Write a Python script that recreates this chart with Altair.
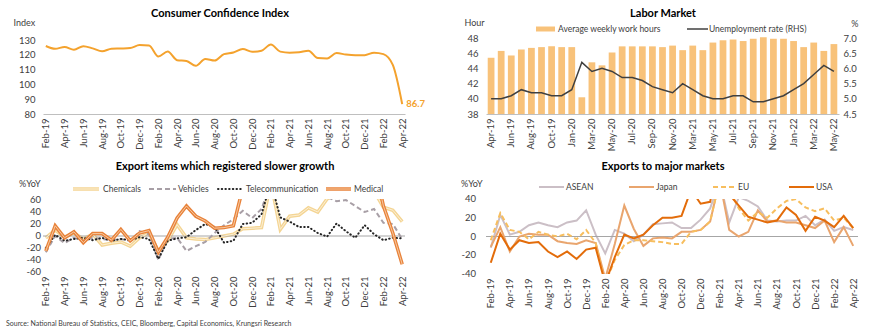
import altair as alt
import pandas as pd

FONT = "Lato"
TXT = "#404040"
AXC = "#BFBFBF"
ORANGE = "#F4A22D"

# ---------------- data ----------------
months = ["Feb-19", "Mar-19", "Apr-19", "May-19", "Jun-19", "Jul-19", "Aug-19", "Sep-19", "Oct-19", "Nov-19", "Dec-19",
          "Jan-20", "Feb-20", "Mar-20", "Apr-20", "May-20", "Jun-20", "Jul-20", "Aug-20", "Sep-20", "Oct-20", "Nov-20", "Dec-20",
          "Jan-21", "Feb-21", "Mar-21", "Apr-21", "May-21", "Jun-21", "Jul-21", "Aug-21", "Sep-21", "Oct-21", "Nov-21", "Dec-21",
          "Jan-22", "Feb-22", "Mar-22", "Apr-22"]
month_ticks = months[::2]

cci = [126.0, 124.1, 125.3, 123.4, 125.9, 124.4, 122.4, 124.1, 124.3, 124.6, 126.6,
       126.4, 118.9, 122.2, 116.4, 115.8, 112.6, 117.2, 116.1, 120.5, 121.6, 124.0, 122.1,
       122.8, 127.0, 122.2, 121.5, 121.8, 122.8, 117.8, 117.5, 121.2, 120.2, 119.7, 119.8,
       121.5, 120.5, 113.2, 86.7]

labor_months = ["Apr-19", "May-19", "Jun-19", "Jul-19", "Aug-19", "Sep-19", "Oct-19", "Nov-19",
                "Jan-20", "Feb-20", "Mar-20", "Apr-20", "May-20", "Jun-20", "Jul-20", "Aug-20", "Sep-20", "Oct-20", "Nov-20",
                "Feb-21", "Mar-21", "Apr-21", "May-21", "Jun-21", "Jul-21", "Aug-21", "Sep-21", "Oct-21", "Nov-21", "Dec-21",
                "Jan-22", "Feb-22", "Mar-22", "Apr-22", "May-22"]
labor_ticks = labor_months[::2]
hours = [45.4, 46.3, 45.7, 46.5, 46.7, 46.8, 46.9, 46.8,
         46.8, 40.2, 44.8, 44.4, 46.1, 46.9, 46.9, 46.9, 46.9, 46.8, 47.0,
         46.4, 47.0, 46.4, 47.4, 47.7, 47.8, 47.6, 47.9, 48.1, 47.9, 47.9,
         47.6, 46.8, 47.4, 46.3, 47.2]
unemp = [5.0, 5.0, 5.1, 5.3, 5.2, 5.2, 5.1, 5.1,
         5.3, 6.2, 5.9, 6.0, 5.9, 5.7, 5.7, 5.6, 5.4, 5.3, 5.2,
         5.5, 5.3, 5.1, 5.0, 5.0, 5.1, 5.1, 4.9, 4.9, 5.0, 5.1,
         5.3, 5.5, 5.8, 6.1, 5.9]

chem = [-3, 10, -2, 5, -5, 3, -15, -12, -10, -17, -3,
        5, -25, -8, 19, -3, -5, -6, -3, 0, 3, 12, 13,
        14, 90, 11, 33, 35, 47, 40, 62, 70, 75, 80, 85,
        75, 48, 43, 24]
veh = [-27, 0, -12, -3, -8, -3, -5, -7, -5, -8, 8,
       3, -40, -5, -3, -25, -17, -10, 5, 18, 28, 42, 30,
       45, 90, 110, 120, 100, 80, 70, 65, 58, 60, 50, 40,
       45, 22, 20, -5]
tel = [-20, 2, -8, -5, -3, -7, -3, -8, -5, -7, -2,
       -5, -38, -8, -4, -2, 10, 20, 15, -11, -8, 20, 22,
       36, 90, 31, 24, 15, 15, 5, -1, 21, 8, -3, 18,
       3, -7, -3, -4]
med = [-25, 17, -3, 7, -11, 4, 4, -7, 11, -8, 5,
       9, -27, -2, 30, 50, 33, 25, 13, 14, 17, 80, 120,
       150, 200, 150, 120, 100, 100, 90, 90, 90, 85, 80, 85,
       120, 50, 5, -47]
yticks_c = [-60, -40, -20, 0, 20, 40, 60]

asean = [-12, 23, 2, 5, 12, 15, 12, 10, 15, 17, 28,
         2, -18, 7, 3, -5, 2, 13, 14, 15, 9, 9, 18,
         30, 60, 15, 42, 38, 32, 17, 16, 17, 17, 22, 12,
         18, 6, 10, 7]
japan = [-11, 10, -16, 0, 3, 2, 2, -5, -7, -8, -4,
         -7, -45, -8, 33, 8, -10, -2, -1, -2, 5, 5, 7,
         16, 60, 7, 0, 5, 28, 16, 17, 15, 15, 12, 9,
         17, -6, 10, -10]
eu = [-4, 25, 7, 5, -3, 5, 2, 0, 3, -3, 7,
      -7, -50, -25, -9, -4, -4, -5, -6, -8, -8, 5, 7,
      16, 60, 50, 30, 17, 26, 20, 30, 38, 40, 31, 27,
      30, 17, 20, 9]
usa = [-28, 3, -14, -4, -7, -6, -16, -22, -16, -24, -14,
       -12, -50, -22, 2, -2, 2, 12, 20, 20, 22, 50, 35,
       37, 90, 45, 33, 21, 18, 15, 17, 31, 23, 6, 21,
       17, 10, 22, 9]
yticks_d = [-40, -20, 0, 20, 40]

one = pd.DataFrame({"k": [0]})


# ---------------- helpers ----------------
def txt(s, x, y, size=8.5, align="left", weight="normal", color=TXT, baseline="middle"):
    return alt.Chart(one).mark_text(text=s, align=align, baseline=baseline, font=FONT, fontSize=size,
                                    fontWeight=weight, color=color).encode(x=alt.value(x), y=alt.value(y))


def seg(x1, x2, y, color, width, dash=None, cap="butt"):
    kw = dict(color=color, strokeWidth=width, strokeCap=cap)
    if dash:
        kw["strokeDash"] = dash
    return alt.Chart(one).mark_rule(**kw).encode(x=alt.value(x1), x2=alt.value(x2), y=alt.value(y))


def xaxis(vals, domain=True):
    return alt.Axis(values=vals, labelAngle=270, title=None, ticks=False, grid=False, domain=domain,
                    domainColor=AXC, labelFont=FONT, labelFontSize=9.5, labelColor=TXT, labelPadding=4,
                    labelOverlap=False)


def yaxis(vals, title, tx, ty, fmt=None, orient="left", pad=6, talign="left"):
    kw = dict(values=vals, title=title, titleAngle=0, titleX=tx, titleY=ty, titleAlign=talign,
              titleBaseline="middle", titleFont=FONT, titleFontSize=9, titleFontWeight="normal",
              titleColor=TXT, grid=False, domain=False, ticks=False, labelFont=FONT, labelFontSize=9.5,
              labelColor=TXT, labelPadding=pad, orient=orient, labelOverlap=False)
    if fmt:
        kw["format"] = fmt
    return alt.Axis(**kw)


def title(s, x, y):
    return txt(s, x, y, size=11, align="center", weight="bold", color="#000000", baseline="alphabetic")


# ---------------- Panel A: Consumer Confidence ----------------
WA, HA = 362, 76
dfA = pd.DataFrame({"month": months, "cci": cci})
xA = alt.X("month:N", sort=months, scale=alt.Scale(type="point", padding=0.3), axis=xaxis(month_ticks))
yA = alt.Y("cci:Q", scale=alt.Scale(domain=[80, 131.4], nice=False, zero=False),
           axis=yaxis([80, 90, 100, 110, 120, 130], "Index", -30, -16, pad=8))
lineA = alt.Chart(dfA).mark_line(color=ORANGE, strokeWidth=2, interpolate="monotone").encode(x=xA, y=yA)
lblA = alt.Chart(dfA).transform_filter(alt.datum.month == "Apr-22").mark_text(
    align="left", baseline="middle", dx=4, fontWeight="bold", font=FONT, fontSize=9.5, color=ORANGE
).encode(x=xA, y=yA, text=alt.Text("cci:Q", format=".1f"))
A = alt.layer(lineA, lblA, title("Consumer Confidence Index", 177, -21)).properties(width=WA, height=HA)

# ---------------- Panel B: Labor Market ----------------
WB, HB = 353, 76
dfB = pd.DataFrame({"month": labor_months, "hours": hours, "unemp": unemp})
xB = alt.X("month:N", sort=labor_months, scale=alt.Scale(type="band", paddingInner=0.33, paddingOuter=0.17),
           axis=xaxis(labor_ticks))
bars = alt.Chart(dfB).mark_bar(color="#F8C27A").encode(
    x=xB,
    y=alt.Y("hours:Q", scale=alt.Scale(domain=[38, 48], nice=False, zero=False),
            axis=yaxis([38, 40, 42, 44, 46, 48], "Hour", -22, -16, pad=8)),
    y2=alt.datum(38),
)
lineB = alt.Chart(dfB).mark_line(color="#404040", strokeWidth=1.5).encode(
    x=xB,
    y=alt.Y("unemp:Q", scale=alt.Scale(domain=[4.5, 7.0], nice=False, zero=False),
            axis=yaxis([4.5, 5.0, 5.5, 6.0, 6.5, 7.0], "%", 19, -15, fmt=".1f", orient="right", pad=4,
                       talign="right")),
)
legB = [
    alt.Chart(one).mark_rect(color="#F8C27A").encode(x=alt.value(50), x2=alt.value(69), y=alt.value(-11.5), y2=alt.value(-6.5)),
    txt("Average weekly work hours", 72, -9),
    seg(201, 222, -9, "#404040", 1.5),
    txt("Unemployment rate (RHS)", 223, -9),
]
B = alt.layer(bars, lineB, *legB, title("Labor Market", 177, -21)).resolve_scale(y="independent").properties(
    width=WB, height=HB)


# ---------------- helpers for line panels ----------------
def sline(df, name, x, yscale, **kw):
    y = alt.Y("value:Q", scale=yscale, axis=None)
    return alt.Chart(df).transform_filter(alt.datum.series == name).mark_line(clip=True, **kw).encode(x=x, y=y)


def zero_rule(yscale):
    return alt.Chart(one).mark_rule(color="#A6A6A6", strokeWidth=1).encode(
        y=alt.Y("k:Q", scale=yscale, axis=None))


def ylabels(vals, yscale, xpos):
    df = pd.DataFrame({"value": vals, "lab": [str(v) for v in vals]})
    return alt.Chart(df).mark_text(align="right", baseline="middle", font=FONT, fontSize=9.5, color=TXT).encode(
        y=alt.Y("value:Q", scale=yscale, axis=None), x=alt.value(xpos), text="lab:N")


# ---------------- Panel C: Export items ----------------
WC, HC = 362, 73
dfC = pd.DataFrame({"month": months, "Chemicals": chem, "Vehicles": veh, "Telecommunication": tel, "Medical": med})
dfC = dfC.melt(id_vars="month", var_name="series", value_name="value")
xC = alt.X("month:N", sort=months, scale=alt.Scale(type="point", padding=0.3), axis=xaxis(month_ticks, domain=False))
sC = alt.Scale(domain=[-60, 61.7], nice=False, zero=False)
layC = [
    sline(dfC, "Chemicals", xC, sC, color="#F4D594", strokeWidth=3.5),
    zero_rule(sC),
    sline(dfC, "Chemicals", xC, sC, color="#FCEFD4", strokeWidth=1),
    sline(dfC, "Vehicles", xC, sC, color="#A89FA6", strokeWidth=2, strokeDash=[5, 3]),
    sline(dfC, "Telecommunication", xC, sC, color="#262626", strokeWidth=2, strokeDash=[0.5, 3.2], strokeCap="round"),
    sline(dfC, "Medical", xC, sC, color="#E8823A", strokeWidth=3.5),
    sline(dfC, "Medical", xC, sC, color="#F7C9A0", strokeWidth=1),
    ylabels(yticks_c, sC, -2),
]
legC = [
    txt("%YoY", -24, -15, size=9),
    seg(30, 56, -10, "#F4D594", 3.5), seg(30, 56, -10, "#FCEFD4", 1),
    txt("Chemicals", 60, -10),
    seg(106, 133, -10, "#A89FA6", 2, dash=[5, 3]),
    txt("Vehicles", 135, -10),
    seg(175, 200, -10, "#262626", 2, dash=[0.5, 3.2], cap="round"),
    txt("Telecommunication", 203, -10),
    seg(283, 308, -10, "#E8823A", 3.5), seg(283, 308, -10, "#F7C9A0", 1),
    txt("Medical", 311, -10),
    txt("Source: National Bureau of Statistics, CEIC, Bloomberg, Capital Economics, Krungsri Research", -37, 125, size=7),
]
C = alt.layer(*layC, *legC, title("Export items which registered slower growth", 182, -29)).properties(
    width=WC, height=HC)

# ---------------- Panel D: Exports to major markets ----------------
WD, HD = 372, 75
dfD = pd.DataFrame({"month": months, "ASEAN": asean, "Japan": japan, "EU": eu, "USA": usa})
dfD = dfD.melt(id_vars="month", var_name="series", value_name="value")
xD = alt.X("month:N", sort=months, scale=alt.Scale(type="point", padding=0.5), axis=xaxis(month_ticks, domain=False))
sD = alt.Scale(domain=[-40, 40], nice=False, zero=False)
layD = [
    sline(dfD, "ASEAN", xD, sD, color="#CBBFC6", strokeWidth=2),
    zero_rule(sD),
    sline(dfD, "Japan", xD, sD, color="#E9A56E", strokeWidth=2),
    sline(dfD, "EU", xD, sD, color="#F7BE5E", strokeWidth=2, strokeDash=[5, 3]),
    sline(dfD, "USA", xD, sD, color="#E36C0A", strokeWidth=2),
    ylabels(yticks_d, sD, -10),
]
legD = [
    txt("%YoY", -25, -15, size=9),
    seg(53, 78, -12, "#CBBFC6", 2), txt("ASEAN", 80, -12),
    seg(143, 168, -12, "#E9A56E", 2), txt("Japan", 170, -12),
    seg(227, 250, -12, "#F7BE5E", 2, dash=[5, 3]), txt("EU", 252, -12),
    seg(303, 328, -12, "#E36C0A", 2), txt("USA", 330, -12),
]
D = alt.layer(*layD, *legD, title("Exports to major markets", 177, -29)).properties(width=WD, height=HD)

row1 = alt.hconcat(A, B, spacing=81, bounds="flush")
row2 = alt.hconcat(C, D, spacing=81, bounds="flush")
chart = alt.vconcat(row1, row2, spacing=161, bounds="flush").properties(
    padding={"left": 5, "top": 7, "right": 0, "bottom": 0}
).configure_view(stroke="transparent")

chart.save("out.html", embed_options={"renderer": "svg", "actions": False})
